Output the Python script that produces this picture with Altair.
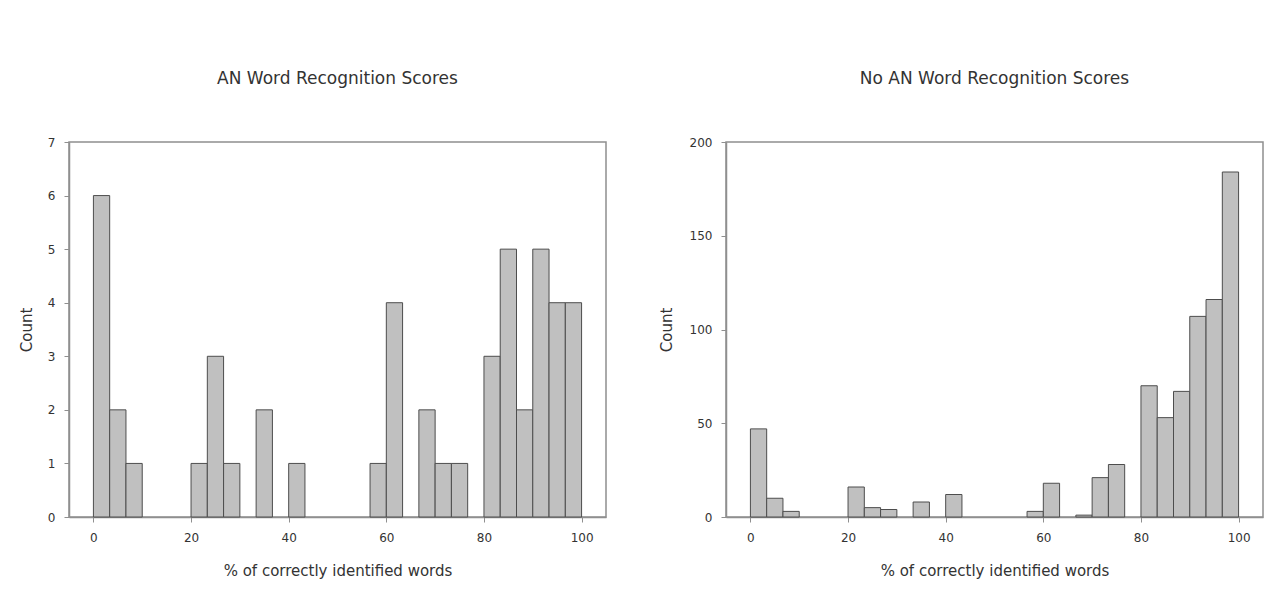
import altair as alt
import pandas as pd

# Histogram bins (width 100/30) — lower and upper edges
bin_start = [0, 3.333, 6.667, 10, 13.333, 16.667, 20, 23.333, 26.667, 30,
             33.333, 36.667, 40, 43.333, 46.667, 50, 53.333, 56.667, 60, 63.333,
             66.667, 70, 73.333, 76.667, 80, 83.333, 86.667, 90, 93.333, 96.667]
bin_end = bin_start[1:] + [100]

# Counts
an_counts = [6, 2, 1, 0, 0, 0, 1, 3, 1, 0,
             2, 0, 1, 0, 0, 0, 0, 1, 4, 0,
             2, 1, 1, 0, 3, 5, 2, 5, 4, 4]
noan_counts = [47, 10, 3, 0, 0, 0, 16, 5, 4, 0,
               8, 0, 12, 0, 0, 0, 0, 3, 18, 0,
               1, 21, 28, 0, 70, 53, 67, 107, 116, 184]

titles = ["AN Word Recognition Scores", "No AN Word Recognition Scores"]
x_ticks = [0, 20, 40, 60, 80, 100]
an_y_ticks = [0, 1, 2, 3, 4, 5, 6, 7]
noan_y_ticks = [0, 50, 100, 150, 200]

FONT = "DejaVu Sans"
TXT = "#333333"
LINE = "#8f8f8f"
W, H = 537, 375


def panel(counts, title, ymax, yticks, ytitle_x):
    df = pd.DataFrame({"start": bin_start, "end": bin_end, "count": counts})
    df = df[df["count"] > 0]
    return (
        alt.Chart(df, title=alt.Title(title, fontSize=17, font=FONT, fontWeight="normal",
                                      color=TXT, offset=48, anchor="middle"))
        .mark_bar(fill="#c0c0c0", stroke="#4d4d4d", strokeWidth=1)
        .encode(
            x=alt.X("start:Q",
                    scale=alt.Scale(domain=[-5, 105], nice=False, zero=False),
                    axis=alt.Axis(values=x_ticks, title="% of correctly identified words",
                                  labelPadding=10, titleX=W / 2, titleY=53,
                                  titleAlign="center", titleBaseline="middle")),
            x2="end:Q",
            y=alt.Y("count:Q",
                    scale=alt.Scale(domain=[0, ymax], nice=False, zero=True),
                    axis=alt.Axis(values=yticks, title="Count", labelPadding=9,
                                  titleX=ytitle_x, titleY=H / 2, titleAngle=270,
                                  titleAlign="center", titleBaseline="middle")),
            y2=alt.datum(0),
        )
        .properties(width=W, height=H)
    )


left = panel(an_counts, titles[0], 7, an_y_ticks, -43)
right = panel(noan_counts, titles[1], 200, noan_y_ticks, -60)

chart = (
    alt.hconcat(left, right, spacing=51)
    .properties(padding={"left": 10, "top": 61, "right": 5, "bottom": 5},
                background="white")
    .configure_view(stroke=LINE, strokeWidth=1.5)
    .configure_axis(grid=False, domainColor=LINE, domainWidth=1.5, tickColor=LINE,
                    tickSize=5, tickWidth=1, labelFont=FONT, labelFontSize=12,
                    labelColor=TXT, titleFont=FONT, titleFontSize=15,
                    titleFontWeight="normal", titleColor=TXT)
)

chart.save("out.html", embed_options={"renderer": "svg", "actions": False})
